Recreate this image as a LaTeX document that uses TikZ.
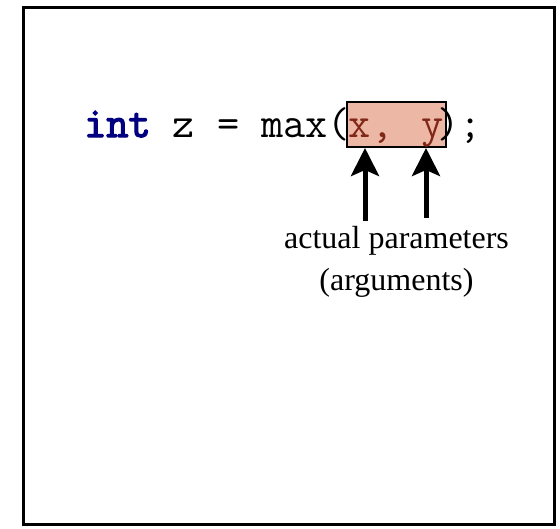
\documentclass[tikz,border=0pt]{standalone}
\usepackage{fontspec}
\setmainfont{Liberation Serif}
\setmonofont{Latin Modern Mono}[AutoFakeBold=3]
\usetikzlibrary{arrows.meta}
\definecolor{argfill}{RGB}{237,183,165}
\definecolor{argtext}{RGB}{128,40,24}
\definecolor{kwblue}{RGB}{0,0,128}
\tikzset{
  code/.style={font=\fontsize{43}{48}\selectfont\ttfamily, inner sep=0pt},
  argbox/.style={draw, line width=2pt, fill=argfill, text=argtext,
    minimum width=99pt, minimum height=45pt, inner sep=0pt,
    text height=30pt, text depth=5pt},
  argarrow/.style={line width=5pt, -{Stealth[length=28pt,width=28pt,inset=6pt]}},
}
\begin{document}
\begin{tikzpicture}[x=1pt,y=-1pt]
      \useasboundingbox (0,0) rectangle (560,528);
      \draw[line width=3pt] (23.5,7.5) rectangle (554.5,524.5);
      \node[code, anchor=base west] (call) at (84,137)
        {\textcolor{kwblue}{\bfseries int} z = max(};
      \node[argbox, code] (args) at (396.5,124.5) {x,\hspace{6.7pt} y};
      \node[code, anchor=base west] (close) at (437,137) {);};
      \node[font=\fontsize{32}{42}\selectfont, align=center, inner sep=0pt,
        anchor=base] (label) at (396.5,290)
        {actual parameters\\(arguments)};
      \coordinate (xtail) at (365,221);
      \coordinate (ytail) at (426,218);
      \begin{scope}[argarrow]
        \draw (xtail) to (xtail |- args.south);
        \draw (ytail) to (ytail |- args.south);
      \end{scope}
    \end{tikzpicture}
\end{document}
